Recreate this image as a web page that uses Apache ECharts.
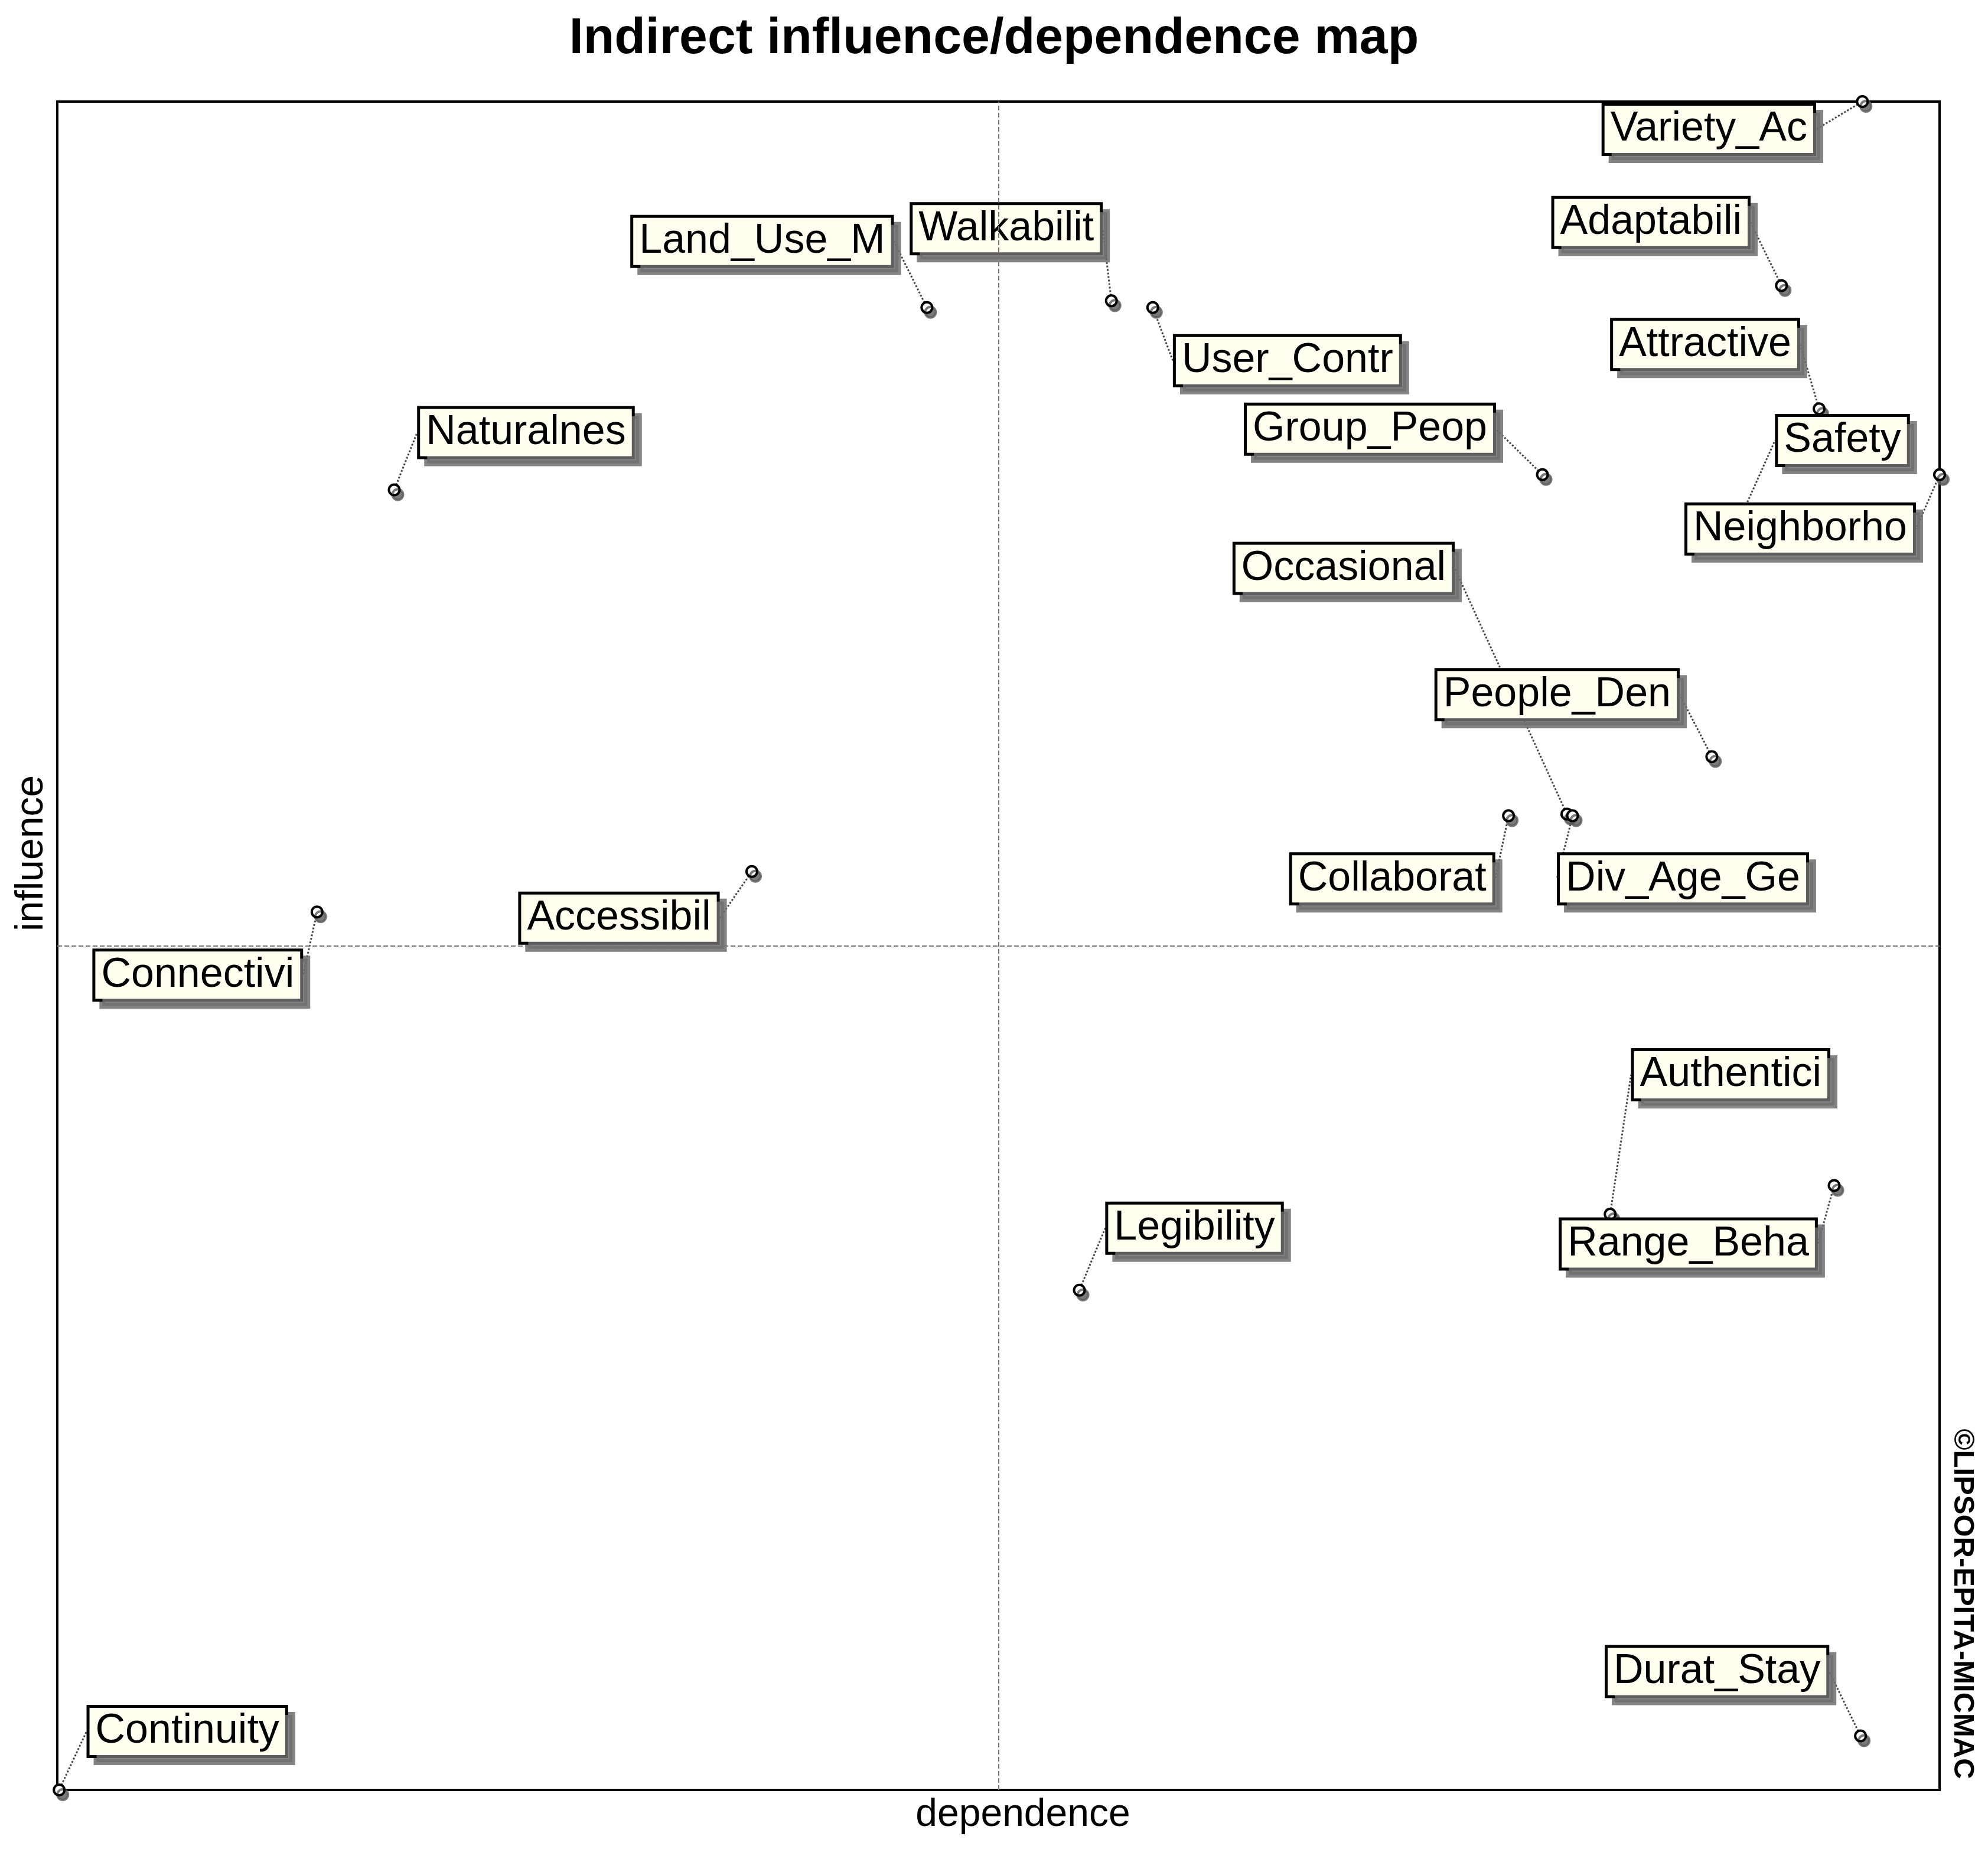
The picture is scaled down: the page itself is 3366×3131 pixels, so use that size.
<!DOCTYPE html>
<html>
<head>
<meta charset="utf-8">
<script src="https://cdn.jsdelivr.net/npm/echarts@6/dist/echarts.min.js"></script>
<style>
  html, body { margin: 0; padding: 0; background: #fff; }
  #chart { width: 3366px; height: 3131px; }
</style>
</head>
<body>
<div id="chart"></div>
<script>
// variables of the MICMAC indirect map
var names = ['Variety_Ac', 'Adaptabili', 'Attractive', 'Safety', 'Neighborho',
    'Walkabilit', 'User_Contr', 'Land_Use_M', 'Naturalnes', 'Group_Peop',
    'Occasional', 'People_Den', 'Div_Age_Ge', 'Collaborat', 'Accessibil',
    'Connectivi', 'Authentici', 'Range_Beha', 'Legibility', 'Durat_Stay', 'Continuity']
var dependence = [95.9, 91.6, 93.6, 89.6, 100.0,
    56.0, 58.2, 46.2, 17.9, 78.9,
    80.2, 87.9, 80.5, 77.1, 36.9,
    13.8, 82.5, 94.4, 54.3, 95.8, 0.1]
var influence = [100.0, 89.1, 81.8, 75.8, 77.9,
    88.2, 87.8, 87.8, 77.0, 77.9,
    57.8, 61.2, 57.7, 57.7, 54.4,
    52.0, 34.1, 35.8, 29.6, 3.2, 0.0]
var depMean = 50
var infMean = 50

// where each name box sits, relative to its point (px)
var labelShift = [[-260, 47], [-221, -107], [-193, -109], [167, -118], [-236, 92],
    [-178, -122], [228, 90], [-279, -112], [223, -97], [-292, -77],
    [-378, -416], [-262, -105], [187, 107], [-197, 107], [-225, 79],
    [-202, 107], [204, -236], [-247, 99], [195, -105], [-243, -109], [217, -99]]

var points = []
for (var i = 0; i < names.length; i++) {
    points.push({ name: names[i], value: [dependence[i], influence[i]] })
}

var chart = echarts.init(document.getElementById('chart'))
var option = {
    backgroundColor: '#fff',
    animation: false,
    title: {
        text: 'Indirect influence/dependence map',
        left: 'center',
        top: 18,
        textStyle: {
            fontFamily: 'Liberation Sans',
            fontWeight: 'bold',
            fontSize: 86,
            color: '#000'
        }
    },
    grid: {
        left: 97,
        right: 82,
        top: 172,
        bottom: 100,
        show: true,
        borderColor: '#000',
        borderWidth: 4,
        backgroundColor: '#fff'
    },
    xAxis: {
        type: 'value',
        min: 0,
        max: 100,
        axisLine: { show: false },
        axisTick: { show: false },
        axisLabel: { show: false },
        splitLine: { show: false }
    },
    yAxis: {
        type: 'value',
        min: 0,
        max: 100,
        axisLine: { show: false },
        axisTick: { show: false },
        axisLabel: { show: false },
        splitLine: { show: false }
    },
    graphic: [
        {
            type: 'text',
            x: 1732,
            y: 3074,
            style: {
                text: 'dependence',
                align: 'center',
                verticalAlign: 'middle',
                fontFamily: 'Liberation Sans',
                fontSize: 66,
                fill: '#000'
            }
        },
        {
            type: 'text',
            x: 54,
            y: 1445,
            rotation: Math.PI / 2,
            style: {
                text: 'influence',
                align: 'center',
                verticalAlign: 'middle',
                fontFamily: 'Liberation Sans',
                fontSize: 66,
                fill: '#000'
            }
        },
        {
            type: 'text',
            x: 3323,
            y: 2716,
            rotation: -Math.PI / 2,
            style: {
                text: '©LIPSOR-EPITA-MICMAC',
                align: 'center',
                verticalAlign: 'middle',
                fontFamily: 'Liberation Sans',
                fontWeight: 'bold',
                fontSize: 49,
                fill: '#000'
            }
        }
    ],
    series: [
        {
            type: 'scatter',
            data: points,
            clip: false,
            symbol: 'circle',
            symbolSize: 18,
            itemStyle: {
                color: '#fff',
                opacity: 1,
                borderColor: '#000',
                borderWidth: 4,
                shadowColor: 'rgba(90,90,90,0.8)',
                shadowBlur: 0,
                shadowOffsetX: 6,
                shadowOffsetY: 8
            },
            label: {
                show: true,
                position: 'inside',
                formatter: '{b}',
                fontFamily: 'Liberation Sans',
                fontSize: 70,
                lineHeight: 72,
                color: '#000',
                textBorderWidth: 0,
                backgroundColor: '#fffff0',
                borderColor: '#000',
                borderWidth: 5,
                padding: [5, 10, 3, 10],
                shadowColor: 'rgba(110,110,110,0.85)',
                shadowBlur: 0,
                shadowOffsetX: 12,
                shadowOffsetY: 12
            },
            labelLine: {
                show: true,
                lineStyle: {
                    color: '#444',
                    width: 3,
                    type: 'dotted'
                }
            },
            labelLayout: function (params) {
                var s = labelShift[params.dataIndex]
                return { dx: s[0], dy: s[1] }
            },
            markLine: {
                silent: true,
                symbol: 'none',
                label: { show: false },
                lineStyle: { color: '#777', width: 2, type: 'dashed' },
                data: [{ xAxis: depMean }, { yAxis: infMean }]
            }
        }
    ]
}
chart.setOption(option)
</script>
</body>
</html>
